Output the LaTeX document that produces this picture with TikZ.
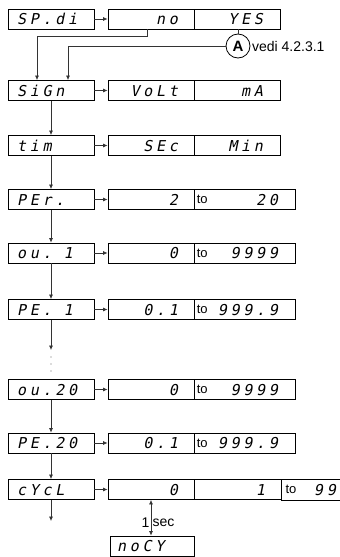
\documentclass[tikz,border=0pt]{standalone}
\usepackage{fontspec}
\setmainfont{Liberation Sans}
\newfontfamily\segfont[LetterSpace=25,FakeSlant=0.2]{DejaVu Sans Mono}
\usetikzlibrary{arrows.meta}

\begin{document}
\begin{tikzpicture}[
        x=1pt,y=-1pt,
        >={Latex[length=4.5pt,width=4pt]},
        lcd/.style={draw=black,line width=0.8pt,minimum height=20pt,inner ysep=0pt,
            font=\segfont\fontsize{15}{15}\selectfont,text height=11pt,text depth=0pt},
        tagbox/.style={lcd,minimum width=86pt,text width=68pt,inner xsep=9pt,align=left},
        valA/.style={lcd,minimum width=86pt,text width=54pt,inner xsep=16pt,align=right},
        valB/.style={lcd,minimum width=86pt,text width=52pt,inner xsep=17pt,align=right},
        valR/.style={lcd,minimum width=101pt,text width=67pt,inner xsep=17pt,align=right},
        flow/.style={->,draw=black!80,line width=0.7pt},
        link/.style={draw=black!80,line width=0.7pt},
        small/.style={font=\fontsize{13}{13}\selectfont,inner sep=0pt},
        note/.style={font=\fontsize{14}{14}\selectfont,inner sep=0pt}
    ]
        \useasboundingbox (0,0) rectangle (340,557);

        % parameter names
        \foreach \nm/\txt/\yy in {spdi/SP.di/19, sign/SiGn/90.5, time/tim/145.5,
                per/PEr./199.5, outa/ou.\hspace{12pt}1/253, pera/PE.\hspace{12pt}1/309.5,
                outb/ou.20/389.5, perb/PE.20/443, cycl/cYcL/489.5}
            \node[tagbox] (\nm) at (51,\yy) {\txt};

        % choices
        \node[valA] (no) at (151,19) {no};
        \node[valB] (yes) at (237,19) {YES};
        \node[valA] (volt) at (151,90.5) {VoLt};
        \node[valB] (ma) at (237,90.5) {mA};
        \node[valA] (sec) at (151,145.5) {SEc};
        \node[valB] (min) at (237,145.5) {Min};

        % ranges
        \foreach \nm/\lo/\hi/\yy in {per/2/20/199.5, outa/0/9999/253, pera/0.1/999.9/309.5,
                outb/0/9999/389.5, perb/0.1/999.9/443} {
            \node[valA] (\nm lo) at (151,\yy) {\lo};
            \node[valR] (\nm hi) at (244.5,\yy) {\hi};
            \node[small,anchor=west] (\nm to) at ([xshift=3pt]\nm hi.west) {to};
        }

        % cycles
        \node[valA] (cyclo) at (151,489.5) {0};
        \node[lcd,minimum width=87pt,text width=55pt,inner xsep=16pt,align=right] (cycmid) at (237.5,489.5) {1};
        \node[lcd,draw=none,anchor=west,minimum width=59pt,text width=49pt,inner xsep=5pt,align=right] (cychi) at (cycmid.east) {99};
        \node[small,anchor=west] (cycto) at ([xshift=4pt]cychi.west) {to};
        \draw[line width=0.8pt] (cychi.north west) -- (cychi.north east) (cychi.south west) -- (cychi.south east);
        \node[lcd,minimum width=84pt,text width=70pt,inner xsep=7pt,align=left] (nocy) at (152,546) {noCY};

        % links
        \node[circle,draw=black,line width=0.8pt,minimum size=24pt,inner sep=0pt,
            font=\bfseries\fontsize{15}{15}\selectfont] (A) at (238,46) {A};
        \node[note,anchor=west] (vedi) at ([xshift=1.5pt]A.east) {vedi 4.2.3.1};
        \draw[link] (yes.south -| A.north) -- (A.north);
        \draw[flow] (A.west) -| ([xshift=17pt]sign.north);
        \draw[flow] ([xshift=-4pt]no.south) -- ++(0,7) -| ([xshift=-14pt]sign.north);

        \foreach \nm/\rt in {spdi/no, sign/volt, time/sec, per/perlo, outa/outalo,
                pera/peralo, outb/outblo, perb/perblo, cycl/cyclo}
            \draw[flow] (\nm) -- (\rt);
        \foreach \a/\b in {sign/time, time/per, per/outa, outa/pera, outb/perb, perb/cycl}
            \draw[flow] (\a) -- (\b);

        \coordinate (gap) at (51,350);
        \draw[flow] (pera) -- (gap);
        \foreach \d in {357,364,371}
            \fill[black!60] (51,\d) circle (0.6pt);
        \coordinate (cont) at (51,521);
        \draw[flow] (cycl) -- (cont);

        \draw[<->,draw=black!80,line width=0.7pt] (cyclo.south) -- (cyclo.south |- nocy.north);
        \node[note,anchor=east] (one) at (149.5,523) {1};
        \node[note,anchor=west] (sectxt) at (152.5,523) {sec};
    \end{tikzpicture}
\end{document}
